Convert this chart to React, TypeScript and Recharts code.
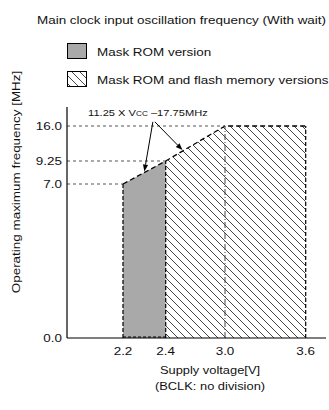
import { ComposedChart, Area, XAxis, YAxis, ReferenceLine } from "recharts";

// main clock input oscillation frequency (with wait)
const voltages = [2.2, 2.4, 3.0, 3.6];
const maskRomMHz: (number | null)[] = [7.0, 9.25, null, null];
const flashMHz: (number | null)[] = [null, 9.25, 16.0, 16.0];

const xTickValues = [2.2, 2.4, 3.0, 3.6];
const xTickLabels = ["2.2", "2.4", "3.0", "3.6"];
const yTickValues = [0, 7.0, 9.25, 16.0];
const yTickLabels = ["0.0", "7.0", "9.25", "16.0"];

// annotation: 11.25 x Vcc - 17.75 MHz, arrows point at the sloped edge
const slope = 11.25;
const intercept = -17.75;
const arrowVoltages = [2.3, 2.57];
const annotationAnchor = { v: 2.34, f: 16.8 };

// the drawing is schematic, both axes are stretched piecewise
const X_BREAKS: [number, number][] = [[1.933, 0], [2.2, 56], [2.4, 98.7], [3.0, 158], [3.6, 238.7], [3.75, 259]];
const Y_BREAKS: [number, number][] = [[0, 0], [7, 154], [9.25, 177], [16, 212], [19.66, 231]];

function piecewise(breaks: [number, number][], v: number) {
  for (let i = 1; i < breaks.length; i++) {
    const [v0, p0] = breaks[i - 1];
    const [v1, p1] = breaks[i];
    if (v <= v1 || i === breaks.length - 1) return p0 + ((v - v0) * (p1 - p0)) / (v1 - v0);
  }
  return 0;
}
const toX = (v: number) => piecewise(X_BREAKS, v);
const toY = (f: number) => piecewise(Y_BREAKS, f);

const X_DOMAIN: [number, number] = [0, X_BREAKS[X_BREAKS.length - 1][1]];
const Y_DOMAIN: [number, number] = [0, Y_BREAKS[Y_BREAKS.length - 1][1]];

const data = voltages.map((v, i) => ({
  x: toX(v),
  maskRom: maskRomMHz[i] == null ? null : toY(maskRomMHz[i] as number),
  flash: flashMHz[i] == null ? null : toY(flashMHz[i] as number),
}));

const topMHz = voltages.map((_, i) => Math.max(maskRomMHz[i] ?? 0, flashMHz[i] ?? 0));

const FONT = "'Liberation Sans', Arial, Helvetica, sans-serif";
const SX = 1.17; // the original lettering is wide
const INK = "#111";
const GRAY = "#a9a9a9";

function WideText({ x, y, size, anchor = "start", rotate = 0, dy, children }: any) {
  return (
    <text
      transform={`translate(${x},${y}) rotate(${rotate}) scale(${SX},1)`}
      fontSize={size}
      fontFamily={FONT}
      textAnchor={anchor}
      dy={dy}
      fill={INK}
    >
      {children}
    </text>
  );
}

function XTick(props: any) {
  const { x, y, index } = props;
  return <WideText x={x} y={y} size={11.5} anchor="middle" dy="0.71em">{xTickLabels[index]}</WideText>;
}

function YTick(props: any) {
  const { x, y, index } = props;
  return <WideText x={x} y={y} size={11.5} anchor="end" dy="0.36em">{yTickLabels[index]}</WideText>;
}

function Arrow(props: any) {
  const { x1, y1, x2, y2 } = props;
  const a = Math.atan2(y2 - y1, x2 - x1);
  const len = 7;
  const w = 2.6;
  const bx = x2 - len * Math.cos(a);
  const by = y2 - len * Math.sin(a);
  const px = -Math.sin(a) * w;
  const py = Math.cos(a) * w;
  return (
    <g>
      <line x1={x1} y1={y1} x2={bx} y2={by} stroke="#000" strokeWidth={1} />
      <polygon points={`${x2},${y2} ${bx + px},${by + py} ${bx - px},${by - py}`} fill="#000" />
    </g>
  );
}

function AnnotatedArrow(props: any) {
  return (
    <g>
      <WideText x={props.x1 - 5} y={props.y1 - 6} size={9.5} anchor="middle">
        11.25 X V<tspan fontSize={7}>CC</tspan> –17.75MHz
      </WideText>
      <Arrow {...props} />
    </g>
  );
}

function HatchPattern({ id }: { id: string }) {
  return (
    <pattern id={id} patternUnits="userSpaceOnUse" width={8} height={8}>
      <path d="M-2,6 L2,10 M0,0 L8,8 M6,-2 L10,2" stroke="#333" strokeWidth={0.9} />
    </pattern>
  );
}

export default function App() {
  return (
    <div style={{ position: "absolute", left: 0, top: 0, width: 329, height: 410, background: "#fff", overflow: "hidden" }}>
      <ComposedChart
        width={329}
        height={410}
        data={data}
        margin={{ top: 107, right: 3, bottom: 42, left: 0 }}
      >
        <defs>
          <HatchPattern id="hatch" />
        </defs>
        <XAxis
          type="number"
          dataKey="x"
          domain={X_DOMAIN}
          ticks={xTickValues.map(toX)}
          tick={<XTick />}
          tickLine={false}
          tickSize={0}
          tickMargin={9}
          height={30}
          axisLine={{ stroke: "#000", strokeWidth: 1.2 }}
          allowDataOverflow
        />
        <YAxis
          type="number"
          domain={Y_DOMAIN}
          ticks={yTickValues.map(toY)}
          tick={<YTick />}
          tickLine={false}
          tickSize={0}
          tickMargin={5}
          width={67}
          axisLine={{ stroke: "#000", strokeWidth: 1.2 }}
          allowDataOverflow
        />

        {/* guide lines from the axis to each corner of the curve */}
        {voltages.slice(0, 3).map((v, i) => (
          <ReferenceLine
            key={`g${i}`}
            segment={[{ x: 0, y: toY(topMHz[i]) }, { x: toX(v), y: toY(topMHz[i]) }]}
            stroke="#555"
            strokeDasharray="3 3"
            strokeWidth={1}
          />
        ))}

        <Area
          type="linear"
          dataKey="maskRom"
          name="Mask ROM version"
          fill={GRAY}
          fillOpacity={1}
          stroke="#000"
          strokeWidth={1.3}
          strokeDasharray="5 3"
          baseValue={0}
          dot={false}
          activeDot={false}
          isAnimationActive={false}
        />
        <Area
          type="linear"
          dataKey="flash"
          name="Mask ROM and flash memory versions"
          fill="url(#hatch)"
          fillOpacity={1}
          stroke="#000"
          strokeWidth={1.3}
          strokeDasharray="5 3"
          baseValue={0}
          dot={false}
          activeDot={false}
          isAnimationActive={false}
        />

        {/* vertical edges of the regions */}
        {voltages.map((v, i) => (
          <ReferenceLine
            key={`v${i}`}
            segment={[{ x: toX(v), y: 0 }, { x: toX(v), y: toY(topMHz[i]) }]}
            stroke={i === 2 ? "#444" : "#000"}
            strokeDasharray={i === 2 ? "6 2 1 2" : "4 2"}
            strokeWidth={i === 2 ? 1 : 1.2}
          />
        ))}
        <ReferenceLine
          segment={[{ x: toX(voltages[0]), y: 1 }, { x: toX(voltages[1]), y: 1 }]}
          stroke="#000"
          strokeDasharray="3 2"
          strokeWidth={1}
        />

        {arrowVoltages.map((v, i) => (
          <ReferenceLine
            key={`a${i}`}
            segment={[
              { x: toX(annotationAnchor.v) + i * 2, y: toY(annotationAnchor.f) },
              { x: toX(v), y: toY(slope * v + intercept) + 1 },
            ]}
            shape={i === 0 ? AnnotatedArrow : Arrow}
          />
        ))}
      </ComposedChart>

      <svg
        width={329}
        height={410}
        style={{ position: "absolute", left: 0, top: 0, pointerEvents: "none" }}
      >
        <defs>
          <HatchPattern id="hatchLegend" />
        </defs>
        <WideText x={37} y={23.5} size={11.5}>Main clock input oscillation frequency (With wait)</WideText>
        <rect x={67.5} y={43.5} width={19} height={15} fill={GRAY} stroke="#000" strokeWidth={1} />
        <WideText x={97} y={55.5} size={11.5}>Mask ROM version</WideText>
        <rect x={67.5} y={71.5} width={19} height={15} fill="url(#hatchLegend)" stroke="#000" strokeWidth={1} />
        <WideText x={97} y={83.5} size={11.5}>Mask ROM and flash memory versions</WideText>
        <WideText x={210} y={374} size={11} anchor="middle">Supply voltage[V]</WideText>
        <WideText x={210} y={390} size={11} anchor="middle">(BCLK: no division)</WideText>
        <WideText x={20} y={182} size={11.5} anchor="middle" rotate={-90}>
          Operating maximum frequency [MHz]
        </WideText>
      </svg>
    </div>
  );
}
